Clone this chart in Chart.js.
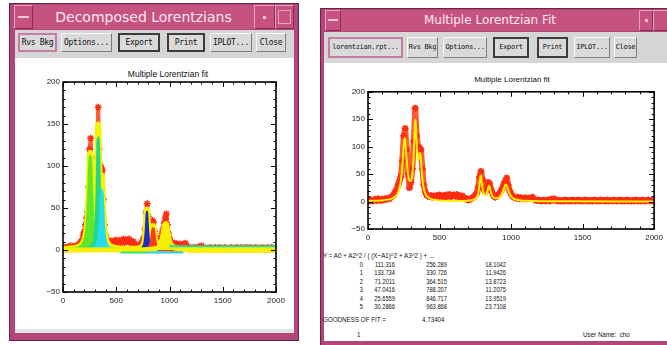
<!DOCTYPE html>
<html>
<head>
<meta charset="utf-8">
<script src="https://cdn.jsdelivr.net/npm/chart.js@4.4.1/dist/chart.umd.min.js"></script>
<style>
body { margin:0; width:667px; height:345px; position:relative; overflow:hidden; background:#fff; font-family:'Liberation Sans', sans-serif; }
.a { position:absolute; }
.frame { position:absolute; background:#b2457a; border:1px solid #6a2545; box-sizing:border-box; }
.tbar { position:absolute; background:#c6527f; color:#fde9f2; text-align:center; font-family:'DejaVu Sans', sans-serif; white-space:nowrap; }
.ctl { position:absolute; background:#c6527f; border:1px solid; border-color:#e7a0c0 #8a2f58 #8a2f58 #e7a0c0; box-sizing:border-box; }
.gray { position:absolute; background:#d6d6d6; }
.white { position:absolute; background:#fff; }
.btn { position:absolute; background:#dadada; border:1px solid; border-color:#f8f8f8 #7c7c7c #7c7c7c #f8f8f8; box-sizing:border-box; font-family:'DejaVu Sans Mono', monospace; color:#111; text-align:center; white-space:nowrap; letter-spacing:-0.3px; }
.btn.def { border:2px solid #3c3c3c; }
.btn.sel { border:2px solid #c97ca2; }
.ptitle { position:absolute; font-size:8.5px; color:#111; white-space:nowrap; transform:translateX(-50%); }
.txt { position:absolute; font-size:8px; color:#111; white-space:nowrap; transform-origin:left center; transform:scaleX(.78); line-height:8px; }
.num { position:absolute; font-size:8px; color:#111; white-space:nowrap; text-align:right; width:40px; transform-origin:right center; transform:scaleX(.72); line-height:8px; }
canvas { position:absolute; }
</style>
</head>
<body>

<!-- left window -->
<div class="frame" style="left:9px;top:3px;width:290px;height:338px;"></div>
<div class="tbar" style="left:33px;top:5px;width:221px;height:24px;font-size:14px;line-height:24px;">Decomposed Lorentzians</div>
<div class="ctl" style="left:14px;top:5px;width:19px;height:24px;"><div class="a" style="left:3px;top:10px;width:11px;height:2px;background:#f2c4d8;"></div></div>
<div class="ctl" style="left:254px;top:5px;width:21px;height:24px;"><div class="a" style="left:8px;top:10px;width:3px;height:3px;background:#f2c4d8;"></div></div>
<div class="ctl" style="left:275px;top:5px;width:19px;height:24px;"><div class="a" style="left:2px;top:4px;width:13px;height:14px;border:1px solid #e7a0c0;box-sizing:border-box;"></div></div>
<div class="gray" style="left:15px;top:30px;width:279px;height:28px;"></div>
<div class="white" style="left:15px;top:58px;width:279px;height:275px;"></div>
<div class="gray" style="left:15px;top:329px;width:279px;height:4px;background:#e4e4e4;"></div>
<div class="btn sel" style="left:18px;top:33px;width:39px;height:19px;font-size:8px;line-height:15px;">Rvs Bkg</div>
<div class="btn" style="left:61px;top:33px;width:51px;height:19px;font-size:8px;line-height:17px;">Options...</div>
<div class="btn def" style="left:118px;top:33px;width:42px;height:19px;font-size:8px;line-height:15px;">Export</div>
<div class="btn def" style="left:167px;top:33px;width:38px;height:19px;font-size:8px;line-height:15px;">Print</div>
<div class="btn" style="left:210px;top:33px;width:42px;height:19px;font-size:8px;line-height:17px;">IPLOT...</div>
<div class="btn" style="left:256px;top:33px;width:30px;height:19px;font-size:8px;line-height:17px;">Close</div>
<div class="ptitle" style="left:168px;top:69px;">Multiple Lorentzian fit</div>
<canvas id="leftChart" width="270" height="246" style="left:20px;top:66px;"></canvas>

<!-- right window -->
<div class="frame" style="left:320px;top:8px;width:360px;height:345px;"></div>
<div class="tbar" style="left:341px;top:10px;width:298px;height:21px;font-size:12px;line-height:21px;">Multiple Lorentzian Fit</div>
<div class="ctl" style="left:325px;top:10px;width:16px;height:21px;"><div class="a" style="left:2px;top:8px;width:10px;height:2px;background:#f2c4d8;"></div></div>
<div class="ctl" style="left:639px;top:10px;width:14px;height:21px;"><div class="a" style="left:5px;top:8px;width:3px;height:3px;background:#f2c4d8;"></div></div>
<div class="ctl" style="left:653px;top:10px;width:16px;height:21px;"></div>
<div class="gray" style="left:324px;top:32px;width:345px;height:31px;"></div>
<div class="white" style="left:324px;top:63px;width:345px;height:278px;"></div>
<div class="btn sel" style="left:328px;top:37px;width:75px;height:21px;font-size:7px;line-height:17px;">lorentzian.rpt...</div>
<div class="btn" style="left:407px;top:37px;width:31px;height:21px;font-size:7px;line-height:19px;">Rvs Bkg</div>
<div class="btn" style="left:443px;top:37px;width:44px;height:21px;font-size:7px;line-height:19px;">Options...</div>
<div class="btn def" style="left:493px;top:37px;width:36px;height:21px;font-size:7px;line-height:17px;">Export</div>
<div class="btn def" style="left:537px;top:37px;width:31px;height:21px;font-size:7px;line-height:17px;">Print</div>
<div class="btn" style="left:574px;top:37px;width:36px;height:21px;font-size:7px;line-height:19px;">IPLOT...</div>
<div class="btn" style="left:614px;top:37px;width:23px;height:21px;font-size:7px;line-height:19px;">Close</div>
<div class="ptitle" style="left:512px;top:75px;font-size:8px;">Multiple Lorentzian fit</div>
<canvas id="rightChart" width="337" height="162" style="left:330px;top:84px;"></canvas>

<div class="txt" style="left:323px;top:252px;">Y = A0 + A2^2 / ( (X&#8722;A1)^2 + A3^2 ) + ...</div>
<div id="fitTable"></div>
<div class="txt" style="left:323px;top:316px;">GOODNESS OF FIT =</div>
<div class="txt" style="left:422px;top:316px;">4.73404</div>
<div class="txt" style="left:357px;top:331px;">1</div>
<div class="txt" style="left:583px;top:331px;">User Name:&nbsp;&nbsp;cho</div>

<script>
// axis ticks
const xTicks = [0, 500, 1000, 1500, 2000];
const yTicks = [-50, 0, 50, 100, 150, 200];
const xMinorStep = 100;
const yMinorStep = 10;

// fit parameters shown in the report (index, height, center, width)
const fitIndex = [0, 1, 2, 3, 4, 5];
const fitHeight = ['111.316', '133.734', '71.2011', '47.0416', '25.6559', '30.2866'];
const fitCenter = ['256.289', '330.726', '364.515', '788.207', '846.717', '963.868'];
const fitWidth = ['18.1042', '11.9426', '13.8723', '11.2075', '13.9519', '23.7108'];

// measured spectrum, one value every 10 units from 0 to 2000
const dataStep = 10;
const measured = [
    2, 1, 3, 1, 2, 4, 2, 5, 3, 2, 4, 3, 5, 4, 6,
    5, 8, 10, 12, 18, 22, 30, 38, 45, 75,
    120, 133, 95, 50, 25, 35, 60, 110, 170, 120,
    100, 98, 95, 60, 30, 18, 12, 10, 9, 11,
    8, 10, 9, 11, 8, 12, 10, 9, 11, 8,
    12, 10, 13, 9, 11, 12, 10, 13, 9, 11,
    8, 10, 7, 6, 4, 3, 4, 5, 7, 8,
    12, 15, 25, 45, 55, 40, 22, 18, 25, 35,
    33, 22, 15, 10, 8, 10, 12, 15, 20, 25,
    32, 38, 43, 30, 20, 14, 10, 8, 7, 6,
    8, 5, 7, 6, 5, 7, 5, 6, 5, 7,
    8, 4, 3, 2, 3, 2, 1, 2, 3, 1,
    2, 3, 1, 4, 3, 5, 2, 3, 1, 2,
    1, 2, 1, 3, 2, 1, 2, 1, 3, 2,
    1, 2, 3, 1, 2, 1, 2, 3, 1, 2,
    1, 2, 1, 3, 2, 1, 2, 1, 3, 2,
    2, 1, 3, 1, 2, 2, 1, 3, 2, 1,
    2, 3, 1, 2, 1, 2, 3, 1, 2, 1,
    2, 1, 3, 2, 1, 2, 1, 3, 2, 1,
    2, 3, 1, 2, 1, 2
];
const dataX = measured.map((v, i) => i * dataStep);

// total fit (yellow)
const fitX = [0, 100, 150, 160, 170, 180, 190, 200, 210, 220, 230, 240, 250, 256, 260, 270, 280, 290, 300, 310,
    320, 325, 330, 335, 340, 350, 360, 365, 370, 380, 390, 400, 410, 420, 440, 460, 500, 600, 700, 720,
    740, 750, 760, 770, 780, 785, 790, 795, 800, 810, 820, 830, 840, 845, 850, 860, 870, 880, 890, 900,
    910, 920, 930, 940, 950, 960, 965, 970, 980, 990, 1000, 1010, 1020, 1040, 1060, 1080, 1100, 1150, 1200, 1400, 2000];
const fitY = [1.0, 2.1, 4.0, 4.8, 5.8, 7.2, 9.1, 12.0, 16.6, 24.4, 38.4, 64.6, 103.1, 115.8, 111.7, 77.3, 49.9, 37.9, 37.1, 49.1,
    88.8, 124, 149.5, 136.9, 105.6, 75.1, 86.7, 88.6, 75.6, 41.4, 23.5, 15.0, 10.5, 7.9, 5.0, 3.5, 2.0, 1.2, 1.7, 2.2,
    3.6, 5.0, 7.9, 14.5, 32.5, 45.5, 48.1, 36.9, 25.4, 14.1, 11.8, 14.9, 24.3, 28.5, 27.4, 16.3, 9.8, 7.1, 6.1, 6.1,
    6.8, 8.4, 11.3, 16.1, 23.5, 30.3, 31.0, 29.2, 21.4, 14.4, 9.7, 6.9, 5.1, 3.2, 2.2, 1.6, 1.3, 0.9, 0.6, 0.4, 0.2];

// single lorentzians (left window)
const c0X = [0, 100, 150, 170, 190, 200, 210, 220, 230, 240, 250, 256, 260, 270, 280, 290, 300, 310, 320, 330, 340, 360, 380, 400, 450, 500, 700, 2000];
const c0Y = [0.6, 1.5, 3.1, 4.7, 7.7, 10.4, 14.8, 22.2, 35.8, 61.4, 99.2, 111.3, 106.8, 70.8, 41.0, 24.9, 16.3, 11.4, 8.3, 6.3, 5.0, 3.3, 2.3, 1.7, 1.0, 0.6, 0.2, 0];
const c1X = [0, 200, 250, 270, 280, 290, 300, 310, 320, 325, 330, 335, 340, 350, 360, 370, 380, 390, 400, 420, 450, 600, 2000];
const c1Y = [0.2, 1.1, 2.9, 5.0, 7.0, 10.6, 17.6, 33.4, 74.2, 109, 133.3, 118.4, 83.3, 37.0, 19.0, 11.3, 7.4, 5.2, 3.9, 2.4, 1.3, 0.3, 0];
const c2X = [0, 200, 280, 300, 320, 330, 340, 350, 355, 360, 365, 370, 380, 390, 400, 410, 420, 440, 460, 600, 2000];
const c2Y = [0.1, 0.5, 1.9, 3.2, 6.3, 9.9, 17.3, 34.1, 48.6, 64.4, 71.1, 61.5, 31.7, 16.3, 9.4, 6.1, 4.2, 2.3, 1.5, 0.2, 0];
const c3X = [0, 600, 700, 740, 760, 770, 780, 785, 790, 795, 800, 810, 820, 840, 880, 1000, 2000];
const c3Y = [0, 0.2, 0.8, 2.4, 6.4, 12.9, 30.6, 43.4, 45.8, 34.3, 22.3, 9.8, 5.2, 2.1, 0.7, 0.1, 0];
const c4X = [0, 700, 760, 800, 820, 830, 840, 845, 850, 860, 870, 880, 900, 940, 1100, 2000];
const c4Y = [0, 0.2, 0.7, 2.1, 5.5, 10.5, 20.8, 25.3, 24.3, 13.4, 6.8, 3.8, 1.7, 0.6, 0.1, 0];
const c5X = [0, 700, 800, 860, 880, 900, 920, 930, 940, 950, 960, 965, 970, 980, 990, 1000, 1020, 1040, 1070, 1100, 1300, 2000];
const c5Y = [0.1, 0.2, 0.6, 1.5, 2.2, 3.7, 6.8, 10.0, 15.0, 22.6, 29.5, 30.2, 28.4, 20.7, 13.7, 9.1, 4.6, 2.7, 1.4, 0.9, 0.3, 0.1];

// thin offset tails under/over the baseline band
const tealTailX = [1000, 2000], tealTailY = [4.5, 4.5];
const greenTailX = [540, 790], greenTailY = [-3, -3];
const cyanTailX = [790, 1130], cyanTailY = [-3, -3];

function pts(xs, ys) {
    return xs.map((x, i) => ({ x: x, y: ys[i] }));
}

// report table
const table = document.getElementById('fitTable');
const rowTop = [261, 269.4, 277.8, 286.2, 294.6, 303];
fitIndex.forEach((n, i) => {
    table.innerHTML += `<div class="num" style="left:323px;top:${rowTop[i]}px;">${n}</div>`;
    table.innerHTML += `<div class="num" style="left:355px;top:${rowTop[i]}px;">${fitHeight[i]}</div>`;
    table.innerHTML += `<div class="num" style="left:407px;top:${rowTop[i]}px;">${fitCenter[i]}</div>`;
    table.innerHTML += `<div class="num" style="left:466px;top:${rowTop[i]}px;">${fitWidth[i]}</div>`;
});

// IDL style box with inward ticks on all four sides
const idlFrame = {
    id: 'idlFrame',
    afterDraw(chart) {
        const { ctx, chartArea: a, scales: { x, y } } = chart;
        ctx.save();
        ctx.strokeStyle = '#000';
        ctx.lineWidth = 1;
        ctx.beginPath();
        for (let v = x.min; v <= x.max; v += xMinorStep) {
            const px = Math.round(x.getPixelForValue(v)) + 0.5;
            const len = xTicks.includes(v) ? 5 : 2.5;
            ctx.moveTo(px, a.bottom); ctx.lineTo(px, a.bottom - len);
            ctx.moveTo(px, a.top); ctx.lineTo(px, a.top + len);
        }
        for (let v = y.min; v <= y.max; v += yMinorStep) {
            const py = Math.round(y.getPixelForValue(v)) + 0.5;
            const len = yTicks.includes(v) ? 5 : 2.5;
            ctx.moveTo(a.left, py); ctx.lineTo(a.left + len, py);
            ctx.moveTo(a.right, py); ctx.lineTo(a.right - len, py);
        }
        ctx.stroke();
        ctx.lineWidth = 1.6;
        ctx.strokeRect(a.left, a.top, a.width, a.height);
        ctx.restore();
    }
};

function scaleOpts(yWidth, xHeight, fontSize) {
    const font = { family: 'Liberation Sans', size: fontSize };
    return {
        x: {
            type: 'linear', min: 0, max: 2000,
            afterBuildTicks: s => { s.ticks = xTicks.map(v => ({ value: v })); },
            afterFit: s => { s.height = xHeight; },
            ticks: { color: '#222', font: font, padding: 4, maxRotation: 0, callback: v => String(v) },
            grid: { display: false, drawTicks: false },
            border: { display: false }
        },
        y: {
            type: 'linear', min: -50, max: 200,
            afterBuildTicks: s => { s.ticks = yTicks.map(v => ({ value: v })); },
            afterFit: s => { s.width = yWidth; },
            ticks: { color: '#222', font: font, padding: 3, callback: v => v < 0 ? '\u2212' + Math.abs(v) : String(v) },
            grid: { display: false, drawTicks: false },
            border: { display: false }
        }
    };
}

function area(xs, ys, color, order, width) {
    return {
        data: pts(xs, ys), borderColor: color, backgroundColor: color, fill: 'origin',
        borderWidth: width, borderJoinStyle: 'round', pointRadius: 0, order: order,
        cubicInterpolationMode: 'monotone'
    };
}

function measuredSet(order, width) {
    return {
        data: pts(dataX, measured), borderColor: '#ff5a30', borderWidth: width, borderJoinStyle: 'round',
        fill: false, pointStyle: 'star', pointRadius: 3.5, pointBorderColor: '#ff2c10', pointBorderWidth: 1.5,
        order: order
    };
}

new Chart(document.getElementById('leftChart'), {
    type: 'line',
    data: {
        datasets: [
            { data: pts(tealTailX, tealTailY), borderColor: '#2ad8a0', borderWidth: 2, pointRadius: 0, order: 0 },
            { data: pts(greenTailX, greenTailY), borderColor: '#3ee070', borderWidth: 2, pointRadius: 0, order: 0 },
            { data: pts(cyanTailX, cyanTailY), borderColor: '#2ad0e8', borderWidth: 2, pointRadius: 0, order: 0 },
            area(c5X, c5Y, '#f4f000', 1, 5),
            area(c4X, c4Y, '#ff3a1a', 2, 3),
            area(c3X, c3Y, '#1b2ec4', 3, 2),
            area(c2X, c2Y, '#22dcef', 4, 3),
            area(c1X, c1Y, '#22d88c', 5, 3),
            area(c0X, c0Y, '#62e628', 6, 3),
            area(fitX, fitY, '#f6f300', 7, 6),
            measuredSet(8, 4)
        ]
    },
    options: {
        responsive: false, animation: false,
        layout: { padding: { top: 16, right: 14, left: 0, bottom: 0 } },
        plugins: { legend: { display: false }, tooltip: { enabled: false } },
        scales: scaleOpts(43, 20, 8)
    },
    plugins: [idlFrame]
});

new Chart(document.getElementById('rightChart'), {
    type: 'line',
    data: {
        datasets: [
            {
                data: pts(fitX, fitY), borderColor: '#fff200', borderWidth: 2, pointRadius: 0,
                fill: false, order: 1, cubicInterpolationMode: 'monotone'
            },
            measuredSet(2, 6)
        ]
    },
    options: {
        responsive: false, animation: false,
        layout: { padding: { top: 4, right: 10, left: 0, bottom: 0 } },
        plugins: { legend: { display: false }, tooltip: { enabled: false } },
        scales: scaleOpts(38, 17, 8)
    },
    plugins: [idlFrame]
});
</script>
</body>
</html>
